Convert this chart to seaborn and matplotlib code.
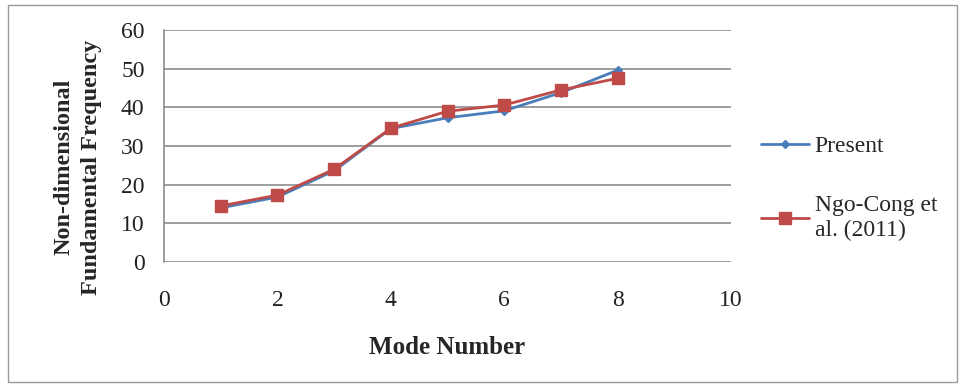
# Mode number vs non-dimensional fundamental frequency (Present vs Ngo-Cong et al.)
import matplotlib
matplotlib.use("Agg")
import pandas as pd
import matplotlib.pyplot as plt
import seaborn as sns
from matplotlib.patches import Rectangle

# Data
modes = [1, 2, 3, 4, 5, 6, 7, 8]
present = [14.0, 16.8, 23.6, 34.5, 37.3, 39.1, 43.8, 49.6]
ngo_cong = [14.5, 17.3, 24.0, 34.6, 39.0, 40.6, 44.5, 47.5]
series_names = ["Present", "Ngo-Cong et\nal. (2011)"]
x_ticks = [0, 2, 4, 6, 8, 10]
y_ticks = [0, 10, 20, 30, 40, 50, 60]

df = pd.DataFrame({
    "mode": modes * 2,
    "freq": present + ngo_cong,
    "series": [series_names[0]] * len(modes) + [series_names[1]] * len(modes)})

sns.set_style("white")
plt.rcParams["font.family"] = ["Liberation Serif", "DejaVu Serif"]

fig = plt.figure(figsize=(9.65, 3.85), dpi=100)
ax = fig.add_axes([0.170, 0.3195, 0.5875, 0.6025])

palette = {series_names[0]: "#4A7EBB", series_names[1]: "#BE4B48"}
sns.lineplot(
    data=df, x="mode", y="freq", hue="series",
    palette=palette, linewidth=2.0, ax=ax, legend=False)

# Markers drawn per series so the sizes can differ
ax.plot(modes, present, linestyle="none", marker="D", markersize=4.5,
        color="#4A7EBB")
ax.plot(modes, ngo_cong, linestyle="none", marker="s", markersize=8,
        color="#BE4B48")

ax.set_xlim(0, 10)
ax.set_ylim(0, 60)
ax.set_xticks(x_ticks)
ax.set_yticks(y_ticks)
ax.yaxis.grid(True, color="#8c8c8c", linewidth=1.2)
ax.xaxis.grid(False)
for side in ["top", "right", "bottom"]:
    ax.spines[side].set_visible(False)
ax.spines["left"].set_color("#8c8c8c")
ax.spines["left"].set_linewidth(1.2)
ax.tick_params(length=0, labelsize=17, labelcolor="#222222")
ax.tick_params(axis="x", pad=20)
ax.tick_params(axis="y", pad=14)

ax.set_xlabel("Mode Number", fontsize=18, fontweight="bold", labelpad=18)
ax.set_ylabel("Non-dimensional\nFundamental Frequency", fontsize=17.5,
              fontweight="bold", linespacing=1.4)
ax.yaxis.set_label_coords(-0.11, 0.41)

# Legend handles: line + marker
h1, = plt.plot([], [], color="#4A7EBB", linewidth=2.0, marker="D", markersize=4.5)
h2, = plt.plot([], [], color="#BE4B48", linewidth=2.0, marker="s", markersize=8)
leg = fig.legend([h1, h2], series_names, loc="center left",
                 bbox_to_anchor=(0.767, 0.51), frameon=False, fontsize=17,
                 handlelength=2.0, handletextpad=0.25, labelspacing=1.6)
for t in leg.get_texts():
    t.set_linespacing(1.25)

# Outer chart border
fig.patches.append(Rectangle((0.008, 0.008), 0.984, 0.978, transform=fig.transFigure,
                             fill=False, edgecolor="#9a9a9a", linewidth=1.0))

fig.savefig("out.png", dpi=100)
